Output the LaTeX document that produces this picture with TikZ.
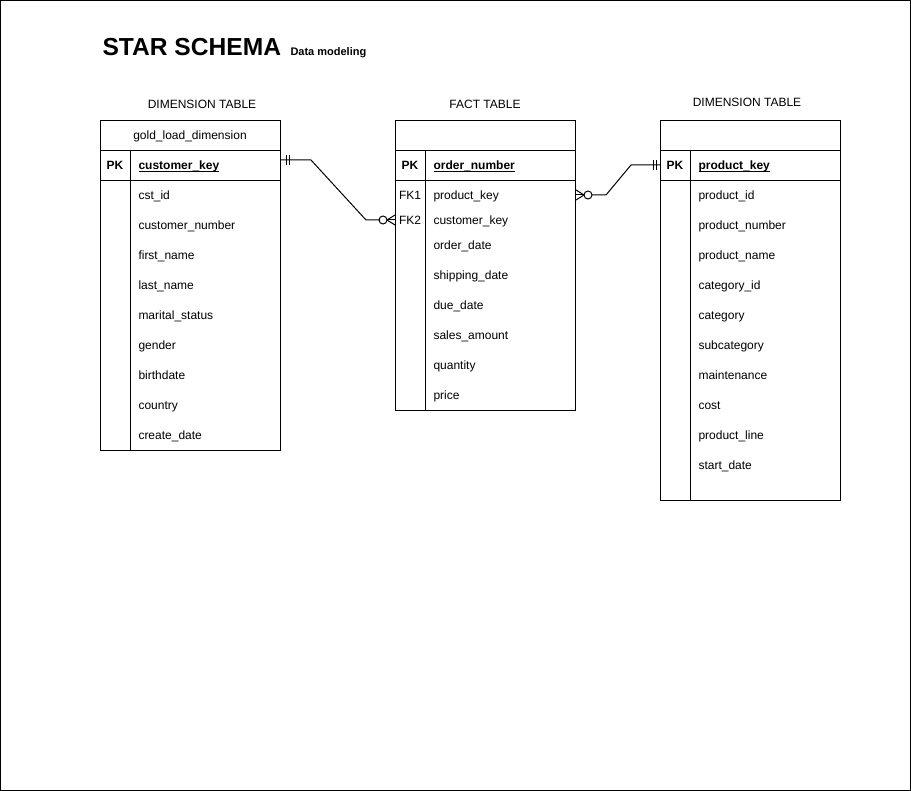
\documentclass[tikz,border=0pt]{standalone}
\usepackage{fontspec}
\setmainfont{Liberation Sans}
\newcommand\myul[1]{\setbox0\hbox{#1}\rlap{\rule[-2pt]{\wd0}{0.9pt}}\box0}
\begin{document}
\begin{tikzpicture}[x=1pt,y=-1pt,line width=1pt,
  tbox/.style={draw,rectangle,minimum width=180pt,inner sep=0pt,anchor=north west},
  fld/.style={anchor=base west,inner sep=0pt,font=\fontsize{12}{14}\selectfont},
  pkey/.style={anchor=base,inner sep=0pt,font=\fontsize{12}{14}\selectfont\bfseries},
  ctr/.style={anchor=base,inner sep=0pt,font=\fontsize{12}{14}\selectfont}]
\useasboundingbox (0,0) rectangle (911,791);
\draw[line width=1pt] (0.5,0.5) rectangle (910.5,790.5);

% title
\node[anchor=base west,inner sep=0pt,font=\fontsize{24.6}{28}\selectfont\bfseries] (title) at (102,56) {STAR SCHEMA};
\node[anchor=base west,inner sep=0pt,font=\fontsize{11}{13}\selectfont\bfseries] (sub) at (290,56) {Data modeling};

% captions
\node[ctr] (capl) at (202,109) {DIMENSION TABLE};
\node[ctr] (capf) at (485,109) {FACT TABLE};
\node[ctr] (capr) at (747,107) {DIMENSION TABLE};

% left table
\node[tbox,minimum height=30pt] (lt) at (100,120) {};
\node[tbox,minimum height=30pt] (lpk) at (100,150) {};
\node[tbox,minimum height=270pt] (lb) at (100,180) {};
\draw (130,150) -- (130,450);
\node[ctr] (ltn) at (190,140) {gold\_load\_dimension};
\node[pkey] (lpkl) at (115,170) {PK};
\node[fld,font=\fontsize{12}{14}\selectfont\bfseries] (lpkn) at (138,170) {\myul{customer\_key}};
\foreach \t [count=\i from 0] in {cst\_id,customer\_number,first\_name,last\_name,marital\_status,gender,birthdate,country,create\_date}
  \node[fld] (l\i) at (138,200+30*\i) {\t};

% fact table
\node[tbox,minimum height=30pt] (ft) at (395,120) {};
\node[tbox,minimum height=30pt] (fpk) at (395,150) {};
\node[tbox,minimum height=230pt] (fb) at (395,180) {};
\draw (425,150) -- (425,410);
\node[pkey] (fpkl) at (410,170) {PK};
\node[fld,font=\fontsize{12}{14}\selectfont\bfseries] (fpkn) at (433,170) {\myul{order\_number}};
\node[ctr] (fk1) at (410,200) {FK1};
\node[ctr] (fk2) at (410,225) {FK2};
\node[fld] (f0) at (433,200) {product\_key};
\node[fld] (f1) at (433,225) {customer\_key};
\foreach \t [count=\i from 0] in {order\_date,shipping\_date,due\_date,sales\_amount,quantity,price}
  \node[fld] (fx\i) at (433,250+30*\i) {\t};

% right table
\node[tbox,minimum height=30pt] (rt) at (660,120) {};
\node[tbox,minimum height=30pt] (rpk) at (660,150) {};
\node[tbox,minimum height=320pt] (rb) at (660,180) {};
\draw (690,150) -- (690,500);
\node[pkey] (rpkl) at (675,170) {PK};
\node[fld,font=\fontsize{12}{14}\selectfont\bfseries] (rpkn) at (698,170) {\myul{product\_key}};
\foreach \t [count=\i from 0] in {product\_id,product\_number,product\_name,category\_id,category,subcategory,maintenance,cost,product\_line,start\_date}
  \node[fld] (r\i) at (698,200+30*\i) {\t};

% connector customer -> fact
\coordinate (ca) at (lpk.east |- 0,160);
\coordinate (cb) at (fb.west |- 0,220);
\draw (ca) -- ++(30,0) -- ++(55,60) -- ++(14,0);
\draw (ca) ++(5,-5) -- ++(0,10);
\draw (ca) ++(8,-5) -- ++(0,10);
\draw (cb) ++(-12,0) circle (4);
\draw (cb) ++(-8,0) -- (cb);
\draw (cb) ++(-8,0) -- ++(8,-5);
\draw (cb) ++(-8,0) -- ++(8,5);

% connector fact -> product
\coordinate (pa) at (fb.east |- 0,195);
\coordinate (pb) at (rpk.west |- 0,165);
\draw (pa) -- ++(8,0);
\draw (pa) ++(8,0) -- ++(-8,-5);
\draw (pa) ++(8,0) -- ++(-8,5);
\draw (pa) ++(12,0) circle (4);
\draw (pa) ++(16,0) -- ++(14,0) -- ++(25,-30) -- (pb);
\draw (pb) ++(-7,-5) -- ++(0,10);
\draw (pb) ++(-4,-5) -- ++(0,10);
\end{tikzpicture}
\end{document}
